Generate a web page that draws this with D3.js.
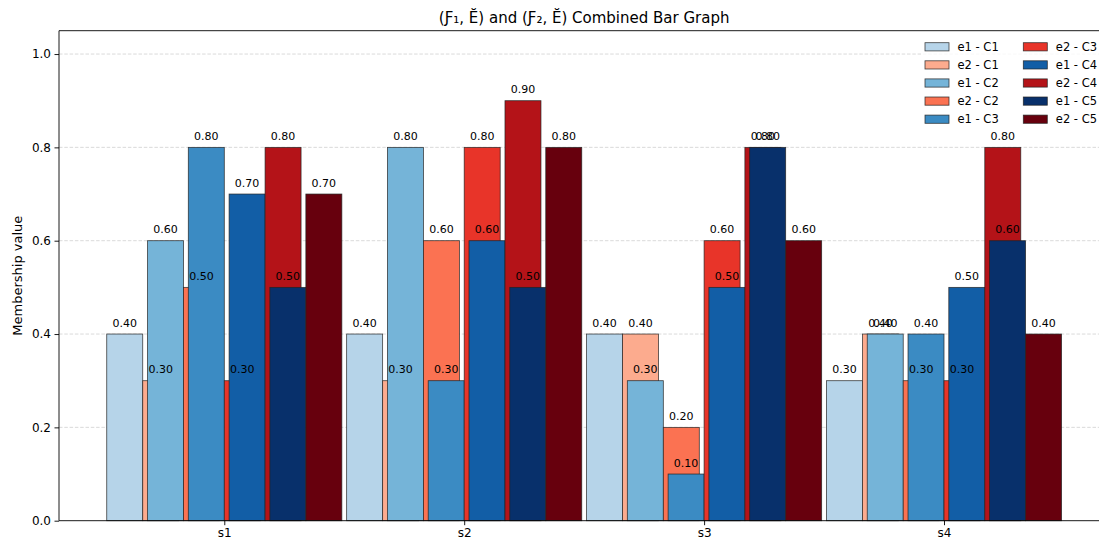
<!DOCTYPE html>
<html>
<head>
<meta charset="utf-8">
<script src="https://cdn.jsdelivr.net/npm/d3@7"></script>
<style>
  html, body { margin: 0; padding: 0; background: #fff; }
  svg { display: block; font-family: "DejaVu Sans", sans-serif; }
</style>
</head>
<body>
<svg id="chart" width="1099" height="544"></svg>
<script>
// Categories (x groups) and clusters
const categories = ["s1", "s2", "s3", "s4"];
const clusters = ["C1", "C2", "C3", "C4", "C5"];

// Membership values of expert e1, one array per cluster (s1..s4)
const e1C1 = [0.4, 0.4, 0.4, 0.3];
const e1C2 = [0.6, 0.8, 0.3, 0.4];
const e1C3 = [0.8, 0.3, 0.1, 0.4];
const e1C4 = [0.7, 0.6, 0.5, 0.5];
const e1C5 = [0.5, 0.5, 0.8, 0.6];

// Membership values of expert e2, one array per cluster (s1..s4)
const e2C1 = [0.3, 0.3, 0.4, 0.4];
const e2C2 = [0.5, 0.6, 0.2, 0.3];
const e2C3 = [0.3, 0.8, 0.6, 0.3];
const e2C4 = [0.8, 0.9, 0.8, 0.8];
const e2C5 = [0.7, 0.8, 0.6, 0.4];

const e1Series = [e1C1, e1C2, e1C3, e1C4, e1C5];
const e2Series = [e2C1, e2C2, e2C3, e2C4, e2C5];

// Blues / Reds shades for the five clusters
const e1Colors = ["#b6d4e9", "#75b4d8", "#3b8bc3", "#125ea6", "#08306b"];
const e2Colors = ["#fcab8e", "#fb7252", "#e83429", "#b41318", "#67000d"];

const yTicks = [0.0, 0.2, 0.4, 0.6, 0.8, 1.0];

// Layout
const svg = d3.select("#chart");
const plot = { left: 59, right: 1109.3, top: 30.7, bottom: 520.7 };
const barWidth = 0.15;   // in x units
const pairStep = 0.17;   // distance between cluster pairs

const x = d3.scaleLinear().domain([-0.689, 3.689]).range([plot.left, plot.right]);
const y = d3.scaleLinear().domain([0, 1.05]).range([plot.bottom, plot.top]);

// Grid lines (behind bars)
svg.append("g")
  .selectAll("line")
  .data(yTicks.filter(t => t > 0))
  .join("line")
  .attr("x1", plot.left).attr("x2", plot.right)
  .attr("y1", d => y(d)).attr("y2", d => y(d))
  .attr("stroke", "#b0b0b0")
  .attr("stroke-opacity", 0.6)
  .attr("stroke-width", 0.8)
  .attr("stroke-dasharray", "3.5,1.8");

// Build the bar list in drawing order: e1-C1, e2-C1, e1-C2, ...
const bars = [];
clusters.forEach((c, j) => {
  [["e1", e1Series, e1Colors, -1], ["e2", e2Series, e2Colors, 1]].forEach(([name, series, colors, side]) => {
    categories.forEach((cat, i) => {
      bars.push({
        series: `${name} - ${c}`,
        center: i + (j - 2) * pairStep + side * barWidth / 2,
        value: series[j][i],
        color: colors[j]
      });
    });
  });
});

const barG = svg.append("g");
barG.selectAll("rect")
  .data(bars)
  .join("rect")
  .attr("x", d => x(d.center - barWidth / 2))
  .attr("width", d => x(d.center + barWidth / 2) - x(d.center - barWidth / 2))
  .attr("y", d => y(d.value))
  .attr("height", d => y(0) - y(d.value))
  .attr("fill", d => d.color)
  .attr("stroke", "#222")
  .attr("stroke-opacity", 0.85)
  .attr("stroke-width", 0.8);

// Value labels above the bars
svg.append("g")
  .selectAll("text")
  .data(bars)
  .join("text")
  .attr("x", d => x(d.center))
  .attr("y", d => y(d.value + 0.01) - 2.6)
  .attr("text-anchor", "middle")
  .attr("font-size", "11px")
  .attr("fill", "#000")
  .text(d => d.value.toFixed(2));

// Axes spines
const spines = svg.append("g").attr("stroke", "#000").attr("stroke-width", 0.9);
spines.append("line").attr("x1", plot.left).attr("x2", plot.left).attr("y1", plot.top).attr("y2", plot.bottom);
spines.append("line").attr("x1", plot.left).attr("x2", plot.right).attr("y1", plot.bottom).attr("y2", plot.bottom);
spines.append("line").attr("x1", plot.left).attr("x2", plot.right).attr("y1", plot.top).attr("y2", plot.top);
spines.append("line").attr("x1", plot.right).attr("x2", plot.right).attr("y1", plot.top).attr("y2", plot.bottom);

// Y axis
const yAxis = svg.append("g")
  .attr("transform", `translate(${plot.left},0)`)
  .call(d3.axisLeft(y).tickValues(yTicks).tickFormat(d3.format(".1f")).tickSize(4.5).tickPadding(3.5));
yAxis.select(".domain").remove();
yAxis.selectAll("line").attr("stroke", "#000").attr("stroke-width", 0.9);
yAxis.selectAll("text").attr("font-size", "12px").attr("font-family", "DejaVu Sans").attr("fill", "#000");

// X axis
const xAxis = svg.append("g")
  .attr("transform", `translate(0,${plot.bottom})`)
  .call(d3.axisBottom(x).tickValues(d3.range(categories.length)).tickFormat(i => categories[i]).tickSize(4.5).tickPadding(3.5));
xAxis.select(".domain").remove();
xAxis.selectAll("line").attr("stroke", "#000").attr("stroke-width", 0.9);
xAxis.selectAll("text").attr("font-size", "12px").attr("font-family", "DejaVu Sans").attr("fill", "#000");

// Y axis label
svg.append("text")
  .attr("transform", `translate(17,${(plot.top + plot.bottom) / 2}) rotate(-90)`)
  .attr("text-anchor", "middle")
  .attr("dominant-baseline", "central")
  .attr("font-size", "13px")
  .attr("fill", "#000")
  .text("Membership value");

// Title
svg.append("text")
  .attr("x", (plot.left + plot.right) / 2)
  .attr("y", 22.5)
  .attr("text-anchor", "middle")
  .attr("font-size", "15px")
  .attr("fill", "#000")
  .text("(Ƒ₁, Ĕ) and (Ƒ₂, Ĕ) Combined Bar Graph");

// Legend: two columns of five entries, in bar drawing order
const legendItems = [];
clusters.forEach((c, j) => {
  legendItems.push({ label: `e1 - ${c}`, color: e1Colors[j] });
  legendItems.push({ label: `e2 - ${c}`, color: e2Colors[j] });
});
const legend = svg.append("g");
legend.append("rect")
  .attr("x", 921).attr("y", 36).attr("width", 184).attr("height", 92)
  .attr("fill", "#fff").attr("fill-opacity", 0.8);
const colX = [925, 1023.3];
const rowY0 = 46.8, rowStep = 18.1;
const entry = legend.selectAll("g.entry")
  .data(legendItems)
  .join("g")
  .attr("class", "entry")
  .attr("transform", (d, k) => `translate(${colX[Math.floor(k / 5)]},${rowY0 + (k % 5) * rowStep})`);
entry.append("rect")
  .attr("x", 0).attr("y", -4.1).attr("width", 24).attr("height", 8.2)
  .attr("fill", d => d.color)
  .attr("stroke", "#222").attr("stroke-opacity", 0.85).attr("stroke-width", 0.8);
entry.append("text")
  .attr("x", 32.5).attr("y", 4.1)
  .attr("font-size", "11.5px")
  .attr("fill", "#000")
  .text(d => d.label);
</script>
</body>
</html>
